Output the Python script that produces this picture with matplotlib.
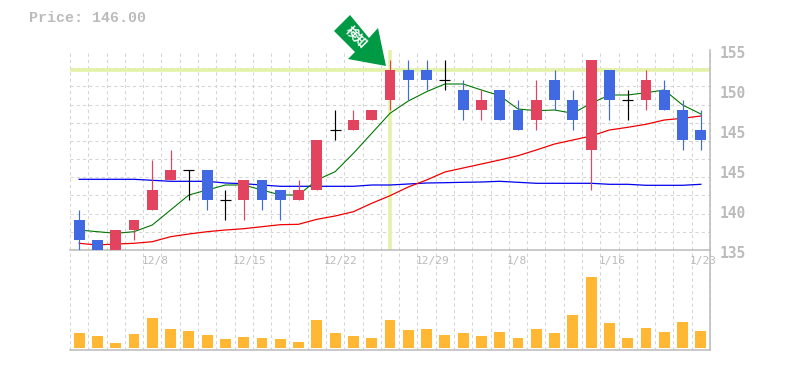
import matplotlib
matplotlib.use('Agg')
import matplotlib.pyplot as plt
from matplotlib.patches import Polygon
from matplotlib.ticker import NullFormatter
from matplotlib.transforms import ScaledTranslation

W, H = 785, 370
title = "Price: 146.00"
signal = "検知"
opens  = [138,136,135,137,139,142,143,143,140,140,142,141,140,141,147,147,148,150,153,153,152,151,149,151,149,148,152,150,145,153,150,150,151,149,147]
closes = [136,135,137,138,141,143,143,140,140,142,140,140,141,146,147,148,149,153,152,152,152,149,150,148,147,150,150,148,154,150,150,152,149,146,146]
highs  = [139,136,137,138,144,145,143,143,141,142,142,141,142,146,149,149,149,154,154,154,154,152,151,151,150,152,153,151,154,153,151,153,152,150,149]
lows   = [135,135,135,136,139,142,140,139,138,138,139,138,140,141,146,147,148,149,150,151,151,148,148,148,147,147,149,147,141,148,148,149,149,145,145]
ma_short = [137,136.83,136.67,136.83,137.5,139,140.5,141,141.5,141.5,141,140.5,140.5,142,142.83,144.67,146.67,148.67,149.9,150.83,151.6,151.6,151,150.43,149.1,148.93,149,148.67,149.67,150.5,150.5,150.73,151,149.5,148.6]
ma_mid = [135.67,135.5,135.6,135.67,135.83,136.33,136.6,136.83,137,137.13,137.33,137.53,137.57,138.07,138.4,138.83,139.67,140.43,141.3,142,142.8,143.2,143.6,144,144.43,145,145.6,146,146.4,147,147.27,147.57,148,148.17,148.4]
ma_long = [142.07,142.07,142.07,142.07,141.97,141.87,141.87,141.87,141.7,141.63,141.5,141.37,141.37,141.37,141.37,141.37,141.5,141.5,141.6,141.7,141.73,141.77,141.8,141.87,141.77,141.67,141.67,141.67,141.67,141.57,141.57,141.47,141.47,141.47,141.57]
volumes = [15,12,5,14,30,19,17,13,9,11,10,9,6,28,15,12,10,28,18,19,13,15,12,16,10,19,15,33,71,25,10,20,16,26,17]
date_labels = ["12/8","12/15","12/22","12/29","1/8","1/16","1/23"]
date_index = [4,9,14,19,24,29,34]
price_ticks = [135,139,143,147,151,155]
price_labels = ["135","140","145","145","150","155"]
resistance = 153
signal_index = 17

RED, BLUE, BLACK = "#e2435f", "#4169e1", "#000000"
GRAY, GRID, HILITE = "#bbbbbb", "#d4d4d4", "#e3f2a8"
GREEN_ARROW = "#009944"
DASH = (0, (3, 3))

fig = plt.figure(figsize=(W/100, H/100), dpi=100)
fig.patch.set_facecolor('white')
axv = fig.add_axes([70/W, (H-350)/H, 640/W, 100/H])
ax = fig.add_axes([70/W, (H-250)/H, 640/W, 200/H])
ax.set_zorder(2)
axv.set_zorder(1)

n = len(opens)
xs = [i+0.5 for i in range(n)]
for a in (ax, axv):
    a.set_xlim(0, n)
    a.set_xticks(range(n+1))
    a.tick_params(axis='x', which='both', length=0, labelbottom=False)
    a.grid(True, axis='x', color=GRID, lw=0.75, ls=DASH, zorder=0)
    a.set_axisbelow(True)
    for s in ('top', 'left'):
        a.spines[s].set_visible(False)
    for s in ('right', 'bottom'):
        a.spines[s].set_color(GRAY)
        a.spines[s].set_linewidth(1.1)
    for g in a.xaxis.get_gridlines():
        g.set_clip_on(False)

ax.set_ylim(135, 155)
ax.set_yticks(price_ticks)
ax.set_yticklabels(price_labels, family='DejaVu Sans Mono', fontsize=10.5, fontweight='bold',
                   color=GRAY, va='center')
ax.yaxis.tick_right()
ax.tick_params(axis='y', which='major', length=0, pad=7)
ax.set_yticks([135 + k*20/11 for k in range(12)], minor=True)
ax.yaxis.set_minor_formatter(NullFormatter())
ax.tick_params(axis='y', which='minor', length=0)
ax.grid(True, axis='y', which='minor', color=GRID, lw=0.75, ls=DASH, zorder=0)
ax.grid(False, axis='y', which='major')
for t in ax.yaxis.get_minor_ticks():
    t.gridline.set_clip_on(False)

shift = ScaledTranslation(0, -3/100, fig.dpi_scale_trans)
for lab in ax.get_yticklabels():
    lab.set_transform(lab.get_transform() + shift)

ax.axhline(resistance, color=HILITE, lw=2.6, zorder=1.5)
ax.axvline(xs[signal_index], color=HILITE, lw=2.6, zorder=1.5)

ax.plot(xs, ma_long, color="#0000ee", lw=0.9, zorder=2)
ax.plot(xs, ma_mid, color="#f00000", lw=0.9, zorder=2)
ax.plot(xs, ma_short, color="#007700", lw=0.8, zorder=2)

for x, o, c, h, l in zip(xs, opens, closes, highs, lows):
    col = BLACK if o == c else (RED if c > o else BLUE)
    ax.vlines(x, l, h, color=col, lw=0.85, zorder=3)
    if o == c:
        ax.hlines(o, x-0.3, x+0.3, color=col, lw=0.85, zorder=3)
    else:
        ax.bar(x, abs(c-o), bottom=min(o, c), width=0.6, color=col, zorder=4, lw=0)

axv.set_ylim(-2, 98)
axv.set_yticks([])
axv.bar(xs, volumes, width=0.6, color="#ffb734", zorder=3, lw=0)

for i, lab in zip(date_index, date_labels):
    ax.annotate(lab, (xs[i], 135), xytext=(-7.9, -4.5), textcoords='offset points',
                ha='left', va='top', family='DejaVu Sans Mono', fontsize=8, color=GRAY,
                annotation_clip=False)

fig.text(29/W, 1-18/H, title, family='Liberation Mono', fontsize=10.8, fontweight='bold',
         color=GRAY, va='center', ha='left')

arrow_px = [(350,15),(334,31),(355,52),(348,59),(386,66),(378,28),(369,38)]
fig.add_artist(Polygon([(x/W, 1-y/H) for x, y in arrow_px], closed=True,
                       transform=fig.transFigure, facecolor=GREEN_ARROW, edgecolor='none', zorder=6))
fig.text(356/W, 1-37/H, signal, family='Noto Sans CJK JP', fontsize=9, fontweight='bold',
         color='white', rotation=-45, rotation_mode='anchor', ha='center', va='center', zorder=7)

fig.savefig('out.png', dpi=100, facecolor='white')
